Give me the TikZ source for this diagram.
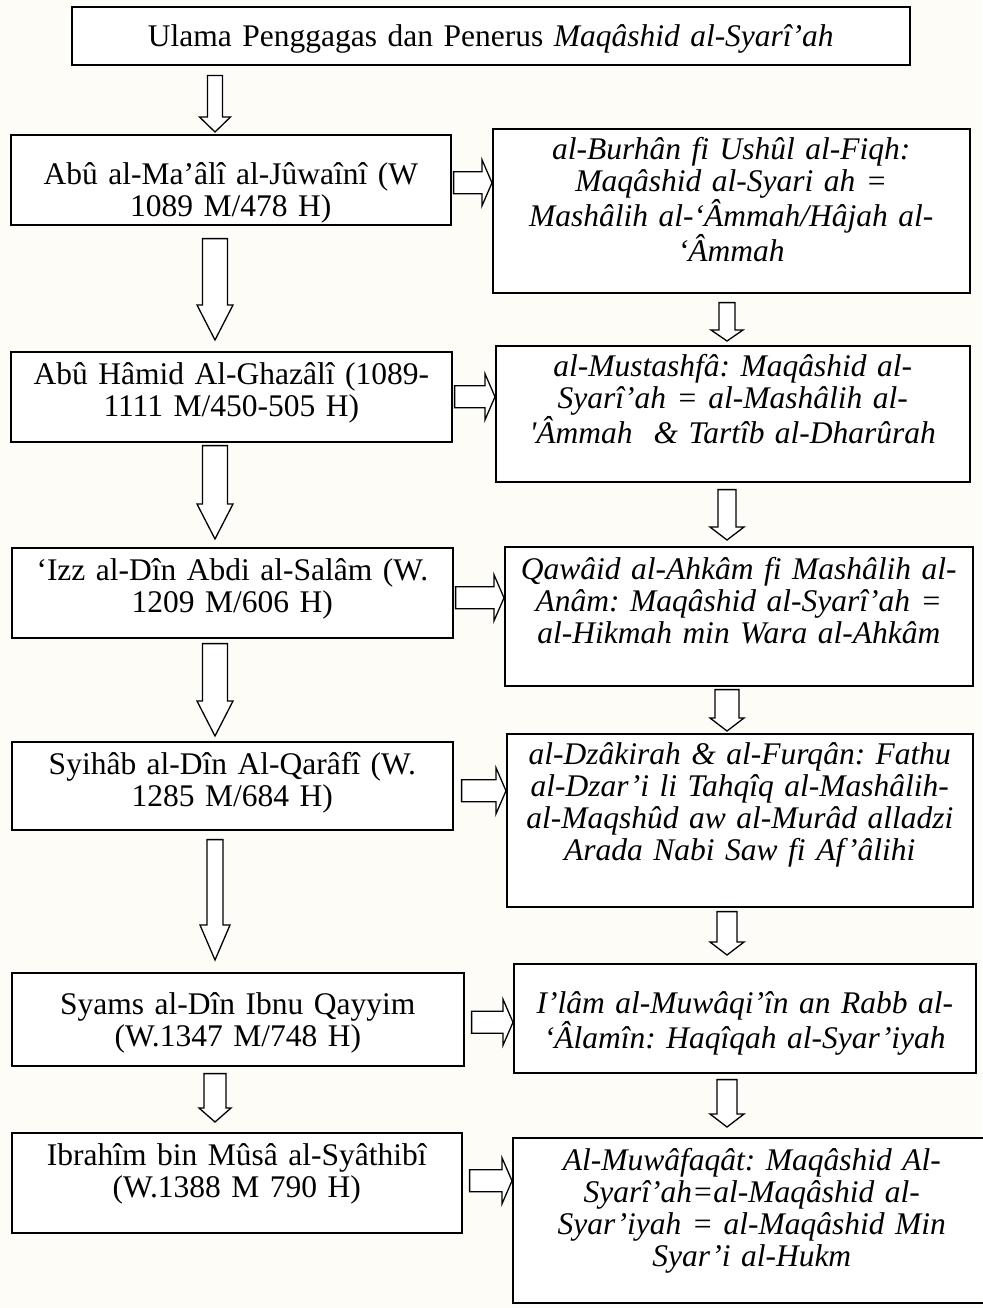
\documentclass[tikz,border=0pt]{standalone}
\usepackage{fontspec}
\setmainfont{Liberation Serif}
\usetikzlibrary{calc}
\definecolor{paper}{RGB}{253,252,247}
\frenchspacing

% hollow block arrows (start, tip, half shaft, half head, head length)
\newcommand{\blockdown}[5]{%
  \draw[blockarrow] let \p1=#1, \p2=#2 in
    (\x1-#3,\y1) -- (\x1+#3,\y1) -- (\x1+#3,\y2+#5) -- (\x1+#4,\y2+#5)
    -- (\x1,\y2) -- (\x1-#4,\y2+#5) -- (\x1-#3,\y2+#5) -- cycle;}
\newcommand{\blockright}[5]{%
  \draw[blockarrow] let \p1=#1, \p2=#2 in
    (\x1,\y1+#3) -- (\x2-#5,\y1+#3) -- (\x2-#5,\y1+#4) -- (\x2,\y1)
    -- (\x2-#5,\y1-#4) -- (\x2-#5,\y1-#3) -- (\x1,\y1-#3) -- cycle;}

\begin{document}
\begin{tikzpicture}[x=1pt, y=-1pt,
  box/.style={draw, line width=1.6pt, fill=white, inner xsep=4pt, inner ysep=0pt,
    align=center, anchor=north west, font=\fontsize{31.5}{32}\selectfont},
  work/.style={box, font=\fontsize{31.5}{32}\selectfont\itshape},
  blockarrow/.style={draw, line width=1.3pt, fill=white, line join=miter}]
  \fill[paper] (0,0) rectangle (982,1308);
  \useasboundingbox (0,0) rectangle (982,1308);
  \coordinate (lcol) at (215,0);
  \coordinate (rcol) at (727,0);

  \node[box, minimum width=838pt, text width=830pt, text height=39.5pt, text depth=18.5pt]
    (title) at (71,6) {Ulama Penggagas dan Penerus \textit{Maqâshid al-Syarî’ah}};

  % scholars
  \node[box, minimum width=440pt, text width=432pt, text height=50pt, text depth=40pt]
    (juwaini) at (10,134) {Abû al-Ma’âlî al-Jûwaînî (W\\1089 M/478 H)};
  \node[box, minimum width=441pt, text width=433pt, text height=33pt, text depth=57pt]
    (ghazali) at (10,351) {Abû Hâmid Al-Ghazâlî (1089-\\1111 M/450-505 H)};
  \node[box, minimum width=441pt, text width=433pt, text height=33pt, text depth=57pt]
    (izz) at (11,547) {‘Izz al-Dîn Abdi al-Salâm (W.\\1209 M/606 H)};
  \node[box, minimum width=441pt, text width=433pt, text height=33pt, text depth=55pt]
    (qarafi) at (11,741) {Syihâb al-Dîn Al-Qarâfî (W.\\1285 M/684 H)};
  \node[box, minimum width=452pt, text width=444pt, text height=41.5pt, text depth=51.5pt]
    (qayyim) at (11,972) {Syams al-Dîn Ibnu Qayyim\\(W.1347 M/748 H)};
  \node[box, minimum width=450pt, text width=442pt, text height=33pt, text depth=67pt]
    (syathibi) at (11,1132) {Ibrahîm bin Mûsâ al-Syâthibî\\(W.1388 M 790 H)};

  % works
  \node[work, minimum width=477pt, text width=469pt, text height=31pt, text depth=133pt]
    (burhan) at (492,128) {al-Burhân fi Ushûl al-Fiqh:\\Maqâshid al-Syari ah =\\Mashâlih al-‘Âmmah/Hâjah al-\\‘Âmmah};
  \node[work, minimum width=474pt, text width=466pt, text height=31pt, text depth=105pt]
    (mustashfa) at (495,345) {al-Mustashfâ: Maqâshid al-\\Syarî’ah = al-Mashâlih al-\\\textquotesingle Âmmah\ \ \& Tartîb al-Dharûrah};
  \node[work, minimum width=468pt, text width=460pt, text height=33pt, text depth=106pt]
    (qawaid) at (504,546) {Qawâid al-Ahkâm fi Mashâlih al-\\Anâm: Maqâshid al-Syarî’ah =\\al-Hikmah min Wara al-Ahkâm};
  \node[work, minimum width=466pt, text width=458pt, text height=31pt, text depth=142pt]
    (dzakirah) at (506,733) {al-Dzâkirah \& al-Furqân: Fathu\\al-Dzar’i li Tahqîq al-Mashâlih-\\al-Maqshûd aw al-Murâd alladzi\\Arada Nabi Saw fi Af’âlihi};
  \node[work, minimum width=462pt, text width=454pt, text height=49.5pt, text depth=59.5pt]
    (ilam) at (513,963) {I’lâm al-Muwâqi’în an Rabb al-\\‘Âlamîn: Haqîqah al-Syar’iyah};
  \node[work, minimum width=478pt, text width=470pt, text height=33pt, text depth=132pt]
    (muwafaqat) at (512,1137) {Al-Muwâfaqât: Maqâshid Al-\\Syarî’ah=al-Maqâshid al-\\Syar’iyah = al-Maqâshid Min\\Syar’i al-Hukm};

  % down arrows, left column
  \blockdown{($(title.south -| lcol)+(0,10)$)}{($(juwaini.north -| lcol)+(0,-2)$)}{7.5}{15.5}{15}
  \blockdown{($(juwaini.south -| lcol)+(0,13)$)}{($(ghazali.north -| lcol)+(0,-11)$)}{12.5}{18}{35}
  \blockdown{($(ghazali.south -| lcol)+(0,3)$)}{($(izz.north -| lcol)+(0,-8)$)}{12.5}{18}{35}
  \blockdown{($(izz.south -| lcol)+(0,5)$)}{($(qarafi.north -| lcol)+(0,-5)$)}{12.5}{18}{35}
  \blockdown{($(qarafi.south -| lcol)+(0,9)$)}{($(qayyim.north -| lcol)+(0,-12)$)}{8}{15}{35}
  \blockdown{($(qayyim.south -| lcol)+(0,7)$)}{($(syathibi.north -| lcol)+(0,-10)$)}{11}{16}{14}
  % down arrows, right column
  \blockdown{($(burhan.south -| rcol)+(0,9)$)}{($(mustashfa.north -| rcol)+(0,-4)$)}{8}{16}{11}
  \blockdown{($(mustashfa.south -| rcol)+(0,7)$)}{($(qawaid.north -| rcol)+(0,-6)$)}{9}{17}{13}
  \blockdown{($(qawaid.south -| rcol)+(0,3)$)}{($(dzakirah.north -| rcol)+(0,-2)$)}{12}{17}{13}
  \blockdown{($(dzakirah.south -| rcol)+(0,4)$)}{($(ilam.north -| rcol)+(0,-8)$)}{10}{17}{13}
  \blockdown{($(ilam.south -| rcol)+(0,6)$)}{($(muwafaqat.north -| rcol)+(0,-10)$)}{10}{17}{13}
  % scholar -> work
  \blockright{($(juwaini.east)+(2,3)$)}{(burhan.west)}{11}{23}{10}
  \blockright{($(ghazali.east)+(2,0)$)}{(mustashfa.west)}{11}{23}{10}
  \blockright{($(izz.east)+(2,5)$)}{(qawaid.west)}{11}{23}{10}
  \blockright{($(qarafi.east)+(8,5)$)}{(dzakirah.west)}{11}{23}{10}
  \blockright{($(qayyim.east)+(7,3)$)}{(ilam.west)}{11}{23}{10}
  \blockright{($(syathibi.east)+(7,-2)$)}{(muwafaqat.west)}{11}{23}{10}
\end{tikzpicture}
\end{document}
